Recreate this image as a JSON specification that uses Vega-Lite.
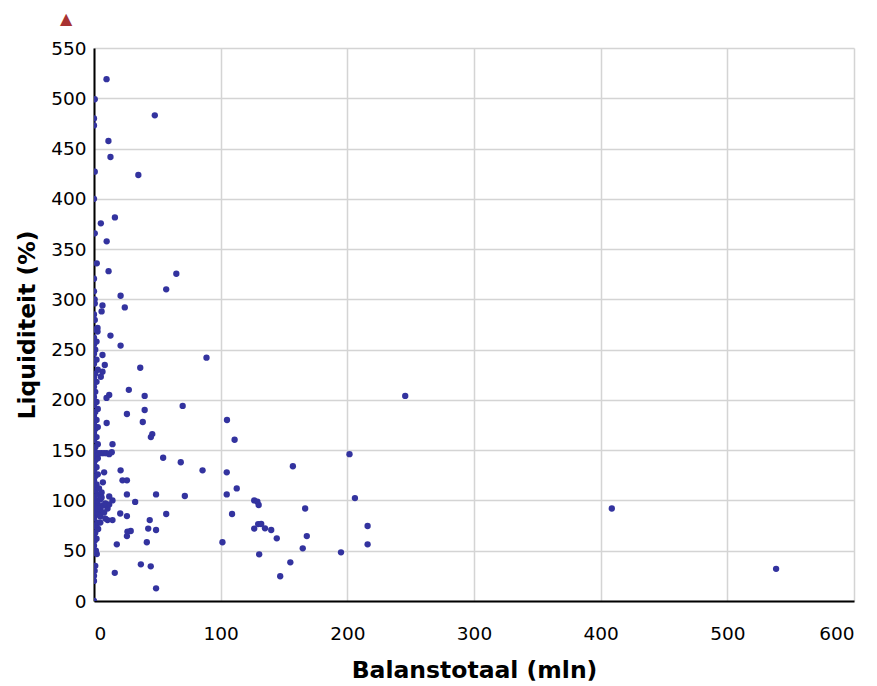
{
  "$schema": "https://vega.github.io/schema/vega-lite/v6.json",
  "width": 760,
  "height": 553,
  "autosize": "none",
  "padding": {"left": 94, "top": 48, "right": 23, "bottom": 85},
  "background": "white",
  "title": {"text": "▲", "anchor": "start", "frame": "group", "dx": -34, "offset": 12, "color": "#a83232", "fontSize": 16, "font": "DejaVu Sans"},
  "config": {
    "view": {"stroke": null},
    "axis": {"labelFont": "DejaVu Sans", "titleFont": "DejaVu Sans", "labelColor": "#000", "titleColor": "#000", "gridColor": "#d4d4d4", "gridWidth": 1.5, "domainColor": "#000", "domainWidth": 2, "tickSize": 0, "labelFontSize": 18.5, "titleFontSize": 23.5, "titleFontWeight": "bold"}
  },
  "data": {"values": [
    {"x": 9.9, "y": 519}, {"x": 0.6, "y": 499}, {"x": 48, "y": 483}, {"x": 0, "y": 480}, {"x": 0, "y": 473}, {"x": 11.4, "y": 457.5}, {"x": 13, "y": 441.6}, {"x": 0.6, "y": 427}, {"x": 35, "y": 423.7},
    {"x": 0, "y": 400}, {"x": 16.5, "y": 381.5}, {"x": 5.4, "y": 375.6}, {"x": 0.6, "y": 365.7}, {"x": 10, "y": 357.7}, {"x": 2.2, "y": 335.8}, {"x": 11.5, "y": 328}, {"x": 65, "y": 325.5}, {"x": 0, "y": 320.5}, {"x": 57, "y": 310}, {"x": 0, "y": 308}, {"x": 21, "y": 303.6}, {"x": 0.6, "y": 296}, {"x": 6.7, "y": 294}, {"x": 6, "y": 288}, {"x": 24.3, "y": 292}, {"x": 0.6, "y": 279.5}, {"x": 2.8, "y": 271.5},
    {"x": 2.8, "y": 268}, {"x": 13, "y": 264}, {"x": 21, "y": 254}, {"x": 6.7, "y": 244.7}, {"x": 88.8, "y": 242}, {"x": 8.5, "y": 234.7}, {"x": 36.5, "y": 232}, {"x": 6.7, "y": 228}, {"x": 5.4, "y": 223}, {"x": 27.5, "y": 210}, {"x": 12, "y": 205}, {"x": 9.9, "y": 202}, {"x": 40, "y": 204}, {"x": 70, "y": 194}, {"x": 26, "y": 186}, {"x": 40, "y": 190}, {"x": 10, "y": 177}, {"x": 38.5, "y": 178}, {"x": 105, "y": 180}, {"x": 46, "y": 166}, {"x": 44.9, "y": 163}, {"x": 111, "y": 160.4}, {"x": 14.6, "y": 156},
    {"x": 54.6, "y": 142.5}, {"x": 68.5, "y": 138}, {"x": 85.7, "y": 130}, {"x": 104.8, "y": 128}, {"x": 21, "y": 130}, {"x": 8, "y": 128}, {"x": 22.5, "y": 120}, {"x": 26, "y": 120}, {"x": 112.7, "y": 112}, {"x": 26, "y": 106}, {"x": 49, "y": 106}, {"x": 71.7, "y": 104.4}, {"x": 104.8, "y": 106}, {"x": 32.5, "y": 98.5}, {"x": 12, "y": 104}, {"x": 14.6, "y": 100}, {"x": 10.7, "y": 92}, {"x": 126.5, "y": 100}, {"x": 129, "y": 98.7}, {"x": 130, "y": 95.5}, {"x": 57, "y": 86.5}, {"x": 20.7, "y": 87}, {"x": 26, "y": 84.5}, {"x": 109, "y": 86.5}, {"x": 10.7, "y": 80.5}, {"x": 14.6, "y": 80.5}, {"x": 44, "y": 80.5}, {"x": 126.5, "y": 72}, {"x": 129.6, "y": 76.5}, {"x": 132, "y": 76.6}, {"x": 135, "y": 72.3}, {"x": 139.9, "y": 70.6}, {"x": 42.8, "y": 72}, {"x": 49, "y": 70.6}, {"x": 26.4, "y": 69}, {"x": 29, "y": 69.6}, {"x": 26, "y": 64.6}, {"x": 3.3, "y": 71.6}, {"x": 18, "y": 56.4}, {"x": 41.7, "y": 58.4}, {"x": 101.4, "y": 58.4}, {"x": 130.4, "y": 46.4}, {"x": 2.2, "y": 46.7}, {"x": 37, "y": 36.5}, {"x": 44.8, "y": 34.5}, {"x": 16.4, "y": 28}, {"x": 49, "y": 12.6}, {"x": 0, "y": 0},
    {"x": 245.7, "y": 204}, {"x": 201.7, "y": 146}, {"x": 157, "y": 134}, {"x": 206, "y": 102.4}, {"x": 166.7, "y": 92}, {"x": 216, "y": 74.6}, {"x": 216, "y": 56.4}, {"x": 144.3, "y": 62.3}, {"x": 168, "y": 64.6}, {"x": 164.8, "y": 52.4}, {"x": 195, "y": 48.4}, {"x": 155, "y": 38.5}, {"x": 147, "y": 24.6}, {"x": 408.8, "y": 92}, {"x": 538.5, "y": 32},
    {"x": 0, "y": 20}, {"x": 0, "y": 25}, {"x": 0.5, "y": 30}, {"x": 1, "y": 35}, {"x": 0, "y": 48}, {"x": 1.5, "y": 50}, {"x": 0, "y": 55}, {"x": 0.5, "y": 60}, {"x": 2, "y": 62}, {"x": 0, "y": 65}, {"x": 1, "y": 68}, {"x": 0, "y": 74}, {"x": 2, "y": 76}, {"x": 3, "y": 78}, {"x": 0, "y": 82}, {"x": 1, "y": 85}, {"x": 4, "y": 86}, {"x": 2, "y": 88}, {"x": 0, "y": 90}, {"x": 5, "y": 91}, {"x": 1, "y": 94}, {"x": 3, "y": 96}, {"x": 7, "y": 95}, {"x": 0, "y": 98}, {"x": 2, "y": 100}, {"x": 5, "y": 101}, {"x": 0.5, "y": 104}, {"x": 3, "y": 106}, {"x": 6, "y": 108}, {"x": 1, "y": 110}, {"x": 0, "y": 114}, {"x": 2, "y": 116}, {"x": 0, "y": 120}, {"x": 1, "y": 124}, {"x": 3, "y": 126}, {"x": 0, "y": 130}, {"x": 2, "y": 133}, {"x": 0, "y": 136}, {"x": 1, "y": 140}, {"x": 3, "y": 142}, {"x": 0, "y": 145}, {"x": 2, "y": 147}, {"x": 4, "y": 147}, {"x": 6, "y": 147}, {"x": 8, "y": 147}, {"x": 10, "y": 147}, {"x": 12, "y": 146}, {"x": 14, "y": 148}, {"x": 0, "y": 150}, {"x": 1, "y": 153}, {"x": 3, "y": 156}, {"x": 0, "y": 160}, {"x": 2, "y": 163}, {"x": 0, "y": 167}, {"x": 1, "y": 171}, {"x": 3, "y": 173}, {"x": 0, "y": 176}, {"x": 2, "y": 180}, {"x": 0, "y": 184}, {"x": 1, "y": 188}, {"x": 3, "y": 191}, {"x": 0, "y": 195}, {"x": 2, "y": 198}, {"x": 0, "y": 203}, {"x": 1, "y": 208}, {"x": 0, "y": 213}, {"x": 2, "y": 218}, {"x": 0, "y": 222}, {"x": 1, "y": 226}, {"x": 3, "y": 230}, {"x": 0, "y": 236}, {"x": 2, "y": 240}, {"x": 0, "y": 246}, {"x": 1, "y": 250}, {"x": 0, "y": 255}, {"x": 2, "y": 258}, {"x": 0, "y": 262}, {"x": 1, "y": 270}, {"x": 0, "y": 285}, {"x": 0.5, "y": 300},
    {"x": 5, "y": 84}, {"x": 8, "y": 88}, {"x": 3, "y": 92}, {"x": 9, "y": 97}, {"x": 6, "y": 103}, {"x": 12, "y": 96}, {"x": 4, "y": 112}, {"x": 7, "y": 118}, {"x": 9, "y": 82}, {"x": 5, "y": 78}
  ]},
  "mark": {"type": "circle", "size": 40, "opacity": 1, "color": "#33339f", "clip": true},
  "encoding": {
    "x": {"field": "x", "type": "quantitative", "scale": {"domain": [0, 600], "nice": false, "zero": false}, "axis": {"title": "Balanstotaal (mln)", "values": [0, 100, 200, 300, 400, 500, 600], "labelPadding": 23, "titlePadding": 16}},
    "y": {"field": "y", "type": "quantitative", "scale": {"domain": [0, 550], "nice": false, "zero": false}, "axis": {"title": "Liquiditeit (%)", "values": [0, 50, 100, 150, 200, 250, 300, 350, 400, 450, 500, 550], "labelPadding": 8, "titlePadding": 11}}
  }
}
